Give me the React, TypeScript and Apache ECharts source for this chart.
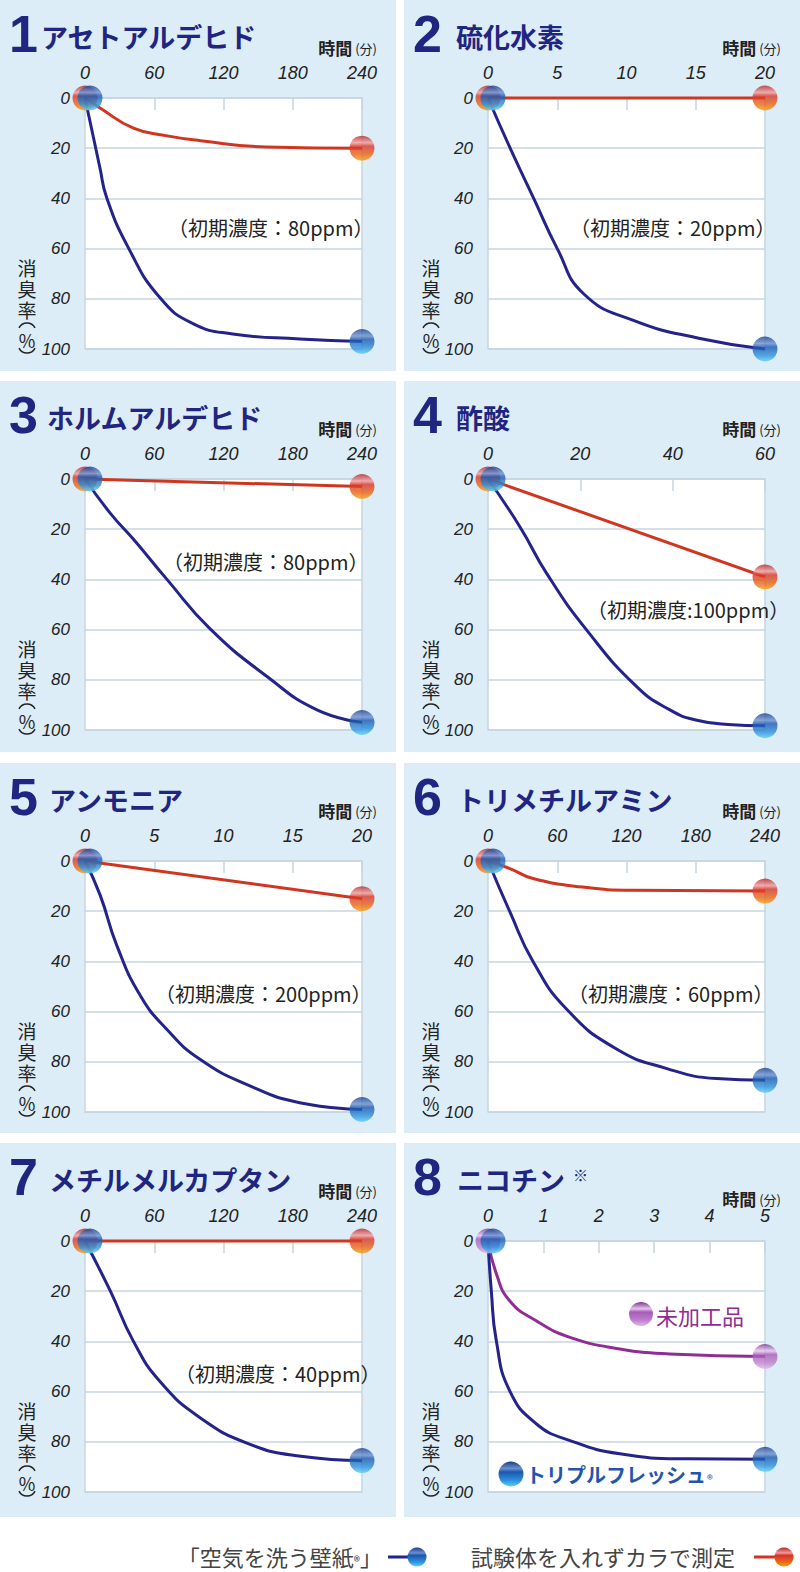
import React, { useEffect, useRef } from "react";
import * as echarts from "echarts";

// ---------- data ----------
const titles = [
  "アセトアルデヒド",
  "硫化水素",
  "ホルムアルデヒド",
  "酢酸",
  "アンモニア",
  "トリメチルアミン",
  "メチルメルカプタン",
  "ニコチン",
];
const xMaxes = [240, 20, 240, 60, 20, 240, 240, 5];
const xIntervals = [60, 5, 60, 20, 5, 60, 60, 1];
const concentrationNotes = [
  "（初期濃度：80ppm）",
  "（初期濃度：20ppm）",
  "（初期濃度：80ppm）",
  "（初期濃度:100ppm）",
  "（初期濃度：200ppm）",
  "（初期濃度：60ppm）",
  "（初期濃度：40ppm）",
  "",
];

// [time, deodorization %]
const acetaldehydeWall = [[0, 0], [13, 28], [18.8, 39.7], [37.5, 59.6], [65, 79.6], [94, 90], [128, 94], [186, 96], [240, 97]];
const acetaldehydeEmpty = [[0, 0], [13, 4], [42, 12], [70, 15], [100, 17], [157, 19.5], [240, 20]];
const hydrogenSulfideWall = [[0, 0], [1.6, 20], [3.3, 40], [5, 60], [6.9, 78], [10.5, 88.6], [15.3, 95.8], [20, 100]];
const hydrogenSulfideEmpty = [[0, 0], [20, 0]];
const formaldehydeWall = [[0, 0], [22, 13.7], [42, 24], [71, 40], [108, 59.5], [158, 78.8], [201, 92], [240, 97]];
const formaldehydeEmpty = [[0, 0], [240, 3]];
const aceticAcidWall = [[0, 0], [6.9, 19], [12.7, 37.6], [21.3, 60], [32.2, 82.7], [39.4, 92], [45, 96], [52, 97.8], [60, 98.3]];
const aceticAcidEmpty = [[0, 0], [60, 39]];
const ammoniaWall = [[0, 0], [1.1, 13.7], [2.3, 33.7], [4, 53.7], [5.9, 67], [8.3, 79], [11.9, 89.6], [15.5, 96.3], [20, 99]];
const ammoniaEmpty = [[0, 0], [20, 15]];
const trimethylamineWall = [[0, 0], [19, 20.3], [39, 40], [68, 59], [111, 74.8], [155, 82.7], [198, 86.7], [240, 87.4]];
const trimethylamineEmpty = [[0, 0], [19, 3], [39, 7], [82, 10.4], [126, 11.7], [240, 12]];
const methylMercaptanWall = [[0, 0], [22, 20], [42, 40], [65, 56], [100, 70.5], [143, 81], [187, 85.8], [240, 87.5]];
const methylMercaptanEmpty = [[0, 0], [240, 0]];
const nicotineTripleFresh = [[0, 0], [0.06, 20], [0.15, 39.7], [0.39, 59.6], [0.87, 72.8], [1.48, 79.5], [2.38, 84.8], [3.58, 86.8], [5, 87]];
const nicotineUntreated = [[0, 0], [0.15, 13], [0.39, 23.8], [0.87, 31.8], [1.48, 38.4], [2.38, 43], [3.28, 45], [5, 46]];

const wallSeries = [
  acetaldehydeWall, hydrogenSulfideWall, formaldehydeWall, aceticAcidWall,
  ammoniaWall, trimethylamineWall, methylMercaptanWall, nicotineTripleFresh,
];
const referenceSeries = [
  acetaldehydeEmpty, hydrogenSulfideEmpty, formaldehydeEmpty, aceticAcidEmpty,
  ammoniaEmpty, trimethylamineEmpty, methylMercaptanEmpty, nicotineUntreated,
];

const yAxisName = "消\n臭\n率";
const timeLabel = "時間";
const timeUnit = "(分)";
const legendWall = "「空気を洗う壁紙";
const legendEmpty = "試験体を入れずカラで測定";
const nicotineUntreatedLabel = "未加工品";
const nicotineTripleLabel = "トリプルフレッシュ";

// ---------- layout / style ----------
const COLS = [0, 404];
const ROWS = [0, 381, 763, 1143];
const PANEL_W = 396;
const PANEL_H = [371, 371, 370, 374];
const titleTextX = [42, 53, 48, 53, 50, 54, 50, 54];
const noteX = [168, 166, 163, 183, 155, 164, 175, 0];
const noteY = [227, 227, 180, 228, 230, 230, 230, 0];

const NAVY_LINE = "#23238a";
const RED_LINE = "#d0361f";
const PURPLE_LINE = "#902d94";
const GRID_C = "#c6d6e0";
const PANEL_BG = "#dcedf8";
const TITLE_C = "#1f2580";
const NUM_FONT = "Liberation Sans";
const CJK_FONT = "Noto Sans CJK JP";

const grad = (stops: [number, string][]) =>
  new echarts.graphic.LinearGradient(0, 0, 0, 1, stops.map(([offset, color]) => ({ offset, color })));

const blueBall = () => grad([[0, "#183e8c"], [0.28, "#6a8fd0"], [0.42, "#1c58ae"], [0.75, "#2d8fdc"], [1, "#5cd0fa"]]);
const redBall = () => grad([[0, "#b42326"], [0.28, "#f09a98"], [0.42, "#d8352a"], [0.75, "#ea6414"], [1, "#f8a010"]]);
const purpleBall = () => grad([[0, "#7a3590"], [0.28, "#e6c4ee"], [0.42, "#a65cb8"], [0.75, "#bd7ecb"], [1, "#e2b6ea"]]);

function textEl(x: number, y: number, style: any, extra: any = {}) {
  return {
    type: "text",
    z: 10,
    x,
    y,
    ...extra,
    style: {
      align: style.align || "left",
      textAlign: style.align || "left",
      verticalAlign: style.verticalAlign || "middle",
      textVerticalAlign: style.verticalAlign || "middle",
      ...style,
    },
  };
}

function buildOption() {
  const grids: any[] = [];
  const xAxes: any[] = [];
  const yAxes: any[] = [];
  const series: any[] = [];
  const elements: any[] = [];

  for (let i = 0; i < 8; i++) {
    const col = i % 2;
    const row = Math.floor(i / 2);
    const ox = COLS[col];
    const oy = ROWS[row];
    const isNic = i === 7;

    grids.push({
      left: ox + (col === 0 ? 85 : 84),
      top: oy + 98,
      width: 277,
      height: 251,
      show: true,
      backgroundColor: "#ffffff",
      borderColor: GRID_C,
      borderWidth: 1.5,
    });
    xAxes.push({
      gridIndex: i,
      type: "value",
      position: "top",
      min: 0,
      max: xMaxes[i],
      interval: xIntervals[i],
      axisLine: { show: false },
      axisTick: { show: true, inside: true, length: 12, lineStyle: { color: GRID_C, width: 1.5 } },
      axisLabel: {
        margin: 16,
        fontSize: 18,
        fontStyle: "italic",
        color: "#222",
        fontFamily: NUM_FONT,
      },
      splitLine: { show: false },
    });
    yAxes.push({
      gridIndex: i,
      type: "value",
      inverse: true,
      min: 0,
      max: 100,
      interval: 20,
      axisLine: { show: false },
      axisTick: { show: false },
      axisLabel: {
        margin: 15,
        fontSize: 17,
        fontStyle: "italic",
        color: "#222",
        fontFamily: NUM_FONT,
      },
      splitLine: { show: true, lineStyle: { color: GRID_C, width: 1.5 } },
    });

    const refData = referenceSeries[i];
    const wallData = wallSeries[i];
    const refColor = isNic ? PURPLE_LINE : RED_LINE;
    const refBall = isNic ? purpleBall() : redBall();

    series.push({
      type: "line",
      xAxisIndex: i,
      yAxisIndex: i,
      data: refData,
      smooth: 0.5,
      symbol: "none",
      clip: false,
      silent: true,
      z: 2,
      lineStyle: { color: refColor, width: 3 },
    });
    series.push({
      type: "line",
      xAxisIndex: i,
      yAxisIndex: i,
      data: wallData,
      smooth: 0.5,
      symbol: "none",
      clip: false,
      silent: true,
      z: 3,
      lineStyle: { color: NAVY_LINE, width: 3 },
    });
    series.push({
      type: "scatter",
      xAxisIndex: i,
      yAxisIndex: i,
      data: [refData[0], refData[refData.length - 1]],
      symbol: "circle",
      symbolSize: 25,
      clip: false,
      silent: true,
      z: 4,
      itemStyle: { color: refBall },
    });
    series.push({
      type: "scatter",
      xAxisIndex: i,
      yAxisIndex: i,
      data: [
        { value: wallData[0], symbolOffset: [5, 0] },
        { value: wallData[wallData.length - 1] },
      ],
      symbol: "circle",
      symbolSize: 25,
      clip: false,
      silent: true,
      z: 5,
      itemStyle: { color: blueBall() },
    });

    // panel background
    elements.push({
      type: "rect",
      z: -10,
      silent: true,
      shape: { x: ox, y: oy, width: PANEL_W, height: PANEL_H[row] },
      style: { fill: PANEL_BG },
    });
    // number
    elements.push(textEl(ox + 9, oy + 34, {
      text: String(i + 1),
      fontSize: 52,
      fontWeight: "bold",
      fontFamily: NUM_FONT,
      fill: TITLE_C,
    }));
    // title
    elements.push(textEl(ox + titleTextX[i] - 1, oy + 36, {
      text: titles[i],
      fontSize: 27,
      fontWeight: "bold",
      fontFamily: CJK_FONT,
      fill: TITLE_C,
    }));
    if (isNic) {
      elements.push(textEl(ox + 169, oy + 31, {
        text: "※",
        fontSize: 15,
        fontWeight: "bold",
        fontFamily: CJK_FONT,
        fill: TITLE_C,
      }));
    }
    // time label
    elements.push(textEl(ox + 377, oy + (isNic ? 55 : 47), {
      text: `{a|${timeLabel}}{b|${timeUnit}}`,
      align: "right",
      rich: {
        a: { fontSize: 17, fontFamily: CJK_FONT, fontWeight: "bold", fill: "#222", color: "#222" },
        b: { fontSize: 13, fontFamily: CJK_FONT, fill: "#222", color: "#222", padding: [2, 0, 0, 3] },
      },
    }));
    // y axis name (vertical)
    elements.push(textEl(ox + 27, oy + 257, {
      text: yAxisName,
      fontSize: 19,
      lineHeight: 21,
      fontFamily: CJK_FONT,
      fill: "#222",
      align: "center",
      verticalAlign: "top",
    }));
    // "(%)" written vertically: arcs above and below the percent sign
    elements.push({
      type: "arc",
      z: 10,
      shape: { cx: ox + 27, cy: oy + 332, r: 9, startAngle: 1.5 * Math.PI - 1.1, endAngle: 1.5 * Math.PI + 1.1 },
      style: { stroke: "#222", lineWidth: 1.5, fill: "none" },
    });
    elements.push(textEl(ox + 27, oy + 340, {
      text: "%",
      fontSize: 18,
      fontFamily: CJK_FONT,
      fill: "#222",
      align: "center",
    }));
    elements.push({
      type: "arc",
      z: 10,
      shape: { cx: ox + 27, cy: oy + 344, r: 9, startAngle: 0.5 * Math.PI - 1.1, endAngle: 0.5 * Math.PI + 1.1 },
      style: { stroke: "#222", lineWidth: 1.5, fill: "none" },
    });
    // concentration note
    if (concentrationNotes[i]) {
      elements.push(textEl(ox + noteX[i], oy + noteY[i], {
        text: concentrationNotes[i],
        fontSize: 20,
        fontFamily: CJK_FONT,
        fill: "#222",
      }));
    }
  }

  // nicotine panel labels
  elements.push({
    type: "circle",
    z: 10,
    shape: { cx: 641, cy: 1314, r: 12 },
    style: { fill: purpleBall() },
  });
  elements.push(textEl(656, 1315, {
    text: nicotineUntreatedLabel,
    fontSize: 22,
    fontFamily: CJK_FONT,
    fill: PURPLE_LINE,
  }));
  elements.push({
    type: "circle",
    z: 10,
    shape: { cx: 511, cy: 1474, r: 12.5 },
    style: { fill: blueBall() },
  });
  elements.push(textEl(526, 1474, {
    text: `{a|${nicotineTripleLabel}}{b|®}`,
    rich: {
      a: { fontSize: 20, fontFamily: CJK_FONT, fontWeight: "bold", fill: "#1f55ad", color: "#1f55ad" },
      b: { fontSize: 12, fontFamily: CJK_FONT, fill: "#1f55ad", color: "#1f55ad", padding: [8, 0, 0, 1] },
    },
  }));

  // bottom legend
  elements.push(textEl(382, 1556, {
    text: `{a|${legendWall}}{b|®}{a|」}`,
    align: "right",
    rich: {
      a: { fontSize: 22, fontFamily: CJK_FONT, fill: "#444", color: "#444" },
      b: { fontSize: 13, fontFamily: CJK_FONT, fill: "#444", color: "#444", padding: [8, 0, 0, 0] },
    },
  }));
  elements.push({
    type: "line",
    z: 10,
    shape: { x1: 388, y1: 1557, x2: 410, y2: 1557 },
    style: { stroke: NAVY_LINE, lineWidth: 3 },
  });
  elements.push({
    type: "circle",
    z: 11,
    shape: { cx: 417, cy: 1557, r: 9.5 },
    style: { fill: blueBall() },
  });
  elements.push(textEl(471, 1556, {
    text: legendEmpty,
    fontSize: 22,
    fontFamily: CJK_FONT,
    fill: "#444",
  }));
  elements.push({
    type: "line",
    z: 10,
    shape: { x1: 754, y1: 1557, x2: 778, y2: 1557 },
    style: { stroke: RED_LINE, lineWidth: 3 },
  });
  elements.push({
    type: "circle",
    z: 11,
    shape: { cx: 784, cy: 1557, r: 9.5 },
    style: { fill: redBall() },
  });

  return {
    animation: false,
    backgroundColor: "#ffffff",
    grid: grids,
    xAxis: xAxes,
    yAxis: yAxes,
    series,
    graphic: { elements },
  };
}

export default function App() {
  const ref = useRef<HTMLDivElement>(null);
  useEffect(() => {
    document.body.style.margin = "0";
    if (!ref.current) return;
    const chart = echarts.init(ref.current, null, { renderer: "svg" });
    chart.setOption(buildOption() as any);
    return () => chart.dispose();
  }, []);
  return <div ref={ref} style={{ width: 800, height: 1572 }} />;
}
